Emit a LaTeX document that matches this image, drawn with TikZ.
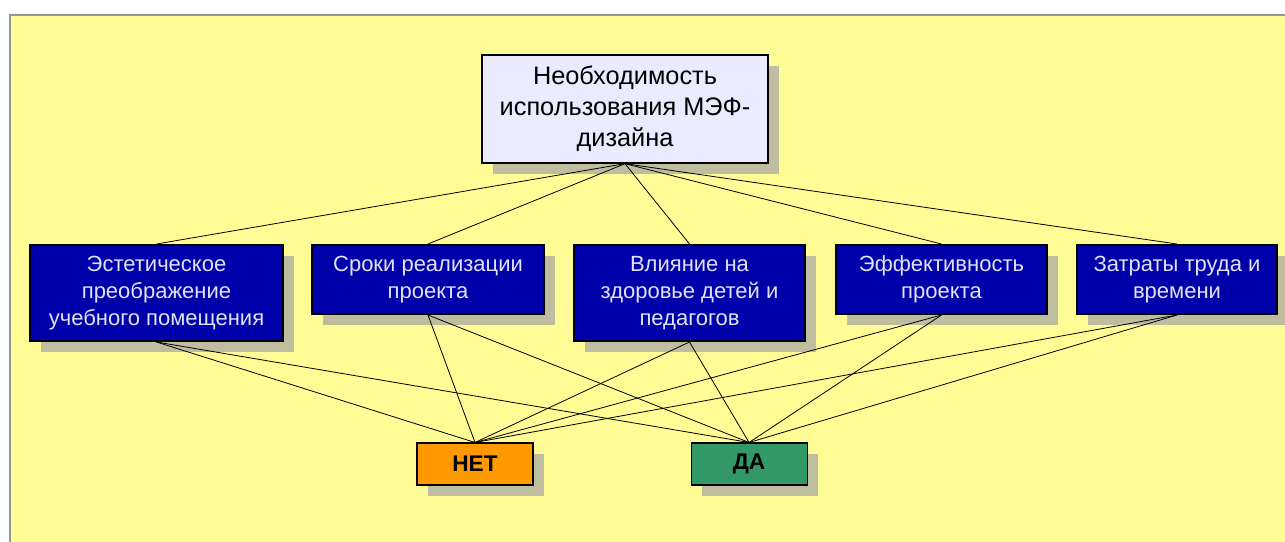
\documentclass[tikz,border=0pt]{standalone}
\usepackage{fontspec}
\setmainfont{Liberation Sans}
\usepackage{xcolor}
\usetikzlibrary{positioning, shadows, backgrounds}
\definecolor{bgyellow}{RGB}{255, 252, 150}
\definecolor{bglight}{RGB}{255, 254, 205}
\definecolor{framegray}{RGB}{150, 150, 150}
\definecolor{shadowgray}{RGB}{190, 189, 160}
\definecolor{goalfill}{RGB}{235, 235, 255}
\definecolor{navyfill}{RGB}{0, 0, 170}
\definecolor{navytext}{RGB}{225, 225, 250}
\definecolor{nofill}{RGB}{255, 153, 0}
\definecolor{yesfill}{RGB}{51, 153, 102}
\tikzstyle{boxshadow} = [drop shadow={shadow xshift=8.25pt, shadow yshift=-8.25pt, fill=shadowgray, opacity=1}]
\tikzstyle{goal} = [rectangle, minimum width=214.5pt, minimum height=81pt, text centered, align=center, draw=black, line width=1pt, fill=goalfill, font=\fontsize{19}{23.25}\selectfont, boxshadow]
\tikzstyle{factor} = [rectangle, anchor=north, minimum height=51.75pt, text centered, align=center, draw=black, line width=1.5pt, fill=navyfill, text=navytext, font=\fontsize{16.5}{20.25}\selectfont, boxshadow]
\tikzstyle{answer} = [rectangle, minimum width=87pt, minimum height=31.5pt, text centered, draw=black, line width=0.8pt, font=\fontsize{17}{20}\selectfont\bfseries, boxshadow]
\tikzstyle{link} = [line width=0.6pt, black]

\begin{document}
\begin{tikzpicture}[x=0.75pt, y=-0.75pt]
\useasboundingbox (0,0) rectangle (1285,542);

% yellow panel with grey frame
\shade [top color=bgyellow, middle color=bglight, bottom color=bgyellow] (9,14) rectangle (1285,542);
\draw [framegray, line width=1.5pt] (10,542) |- (1285,15);

% goal on top
\node (goal) [goal] at (625,109) {Необходимость\\использования МЭФ-\\дизайна};

% row of factors
\node (aesthetic) [factor, minimum width=189.75pt, minimum height=72pt] at (156.5,244) {Эстетическое\\преображение\\учебного помещения};
\node (terms) [factor, minimum width=174pt] at (428,244) {Сроки реализации\\проекта};
\node (health) [factor, minimum width=173.25pt, minimum height=72pt] at (689.5,244) {Влияние на\\здоровье детей и\\педагогов};
\node (efficiency) [factor, minimum width=158.25pt] at (941.5,244) {Эффективность\\проекта};
\node (effort) [factor, minimum width=150pt] at (1177,244) {Затраты труда и\\времени};

% answers
\node (no) [answer, fill=nofill] at (475,464) {НЕТ};
\node (yes) [answer, fill=yesfill, right=117.75pt of no] {ДА};

% goal to factors
\foreach \f in {aesthetic, terms, health, efficiency, effort}
  \draw [link] (goal.south) -- (\f.north);

% factors to answers
\foreach \f in {aesthetic, terms, health, efficiency, effort} {
  \draw [link] (\f.south) -- (no.north);
  \draw [link] (\f.south) -- (yes.north);
}

\end{tikzpicture}
\end{document}
